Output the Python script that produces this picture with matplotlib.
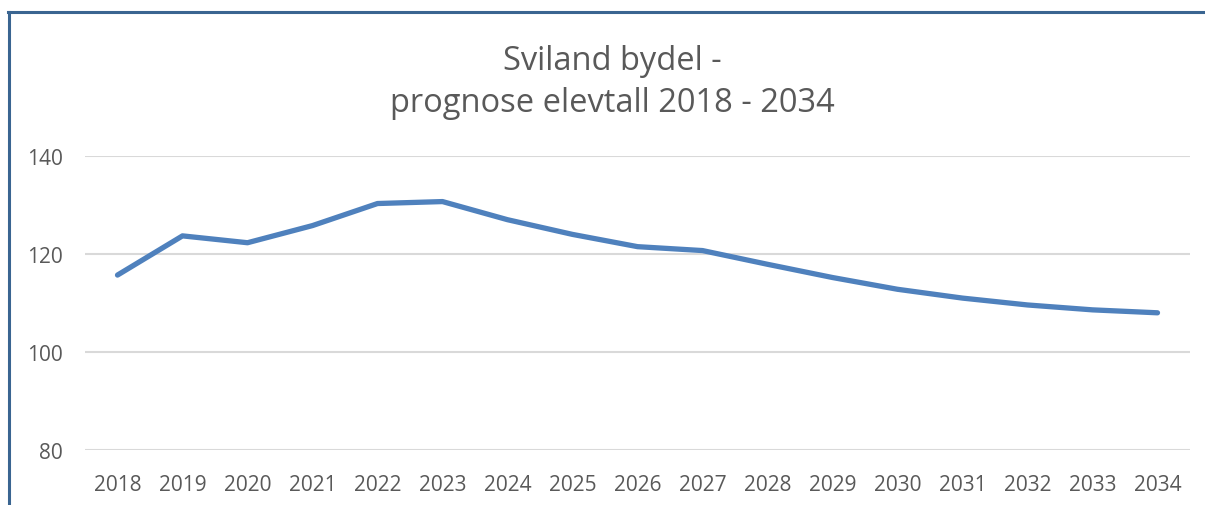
import matplotlib
matplotlib.use("Agg")
from matplotlib import pyplot as plt
from matplotlib.lines import Line2D

years = ["2018", "2019", "2020", "2021", "2022", "2023", "2024", "2025", "2026",
         "2027", "2028", "2029", "2030", "2031", "2032", "2033", "2034"]
elevtall = [115.7, 123.7, 122.3, 125.8, 130.3, 130.7, 127.0, 124.0, 121.5,
            120.7, 117.9, 115.2, 112.8, 111, 109.6, 108.6, 108.0]
y_ticks = [80, 100, 120, 140]

plt.rcParams['font.family'] = ['Open Sans', 'DejaVu Sans']

fig = plt.figure(figsize=(12.05, 5.06), dpi=100)
ax = fig.add_axes([85 / 1205, 55 / 506, 1105 / 1205, 294 / 506])

x = list(range(len(years)))
ax.plot(x, elevtall, color="#4F81BD", linewidth=3.8, solid_capstyle="round",
        solid_joinstyle="round", zorder=3)

ax.set_xlim(-0.5, len(years) - 0.5)
ax.set_ylim(80, 140)
ax.set_yticks(y_ticks)
ax.set_xticks(x)
ax.set_xticklabels(years)
ax.tick_params(axis="both", length=0, labelsize=15, colors="#595959")
ax.tick_params(axis="y", pad=16)
ax.tick_params(axis="x", pad=17)
ax.grid(axis="y", color="#D9D9D9", linewidth=1.5)
for s in ax.spines.values():
    s.set_visible(False)

fig.text(0.5085, 1 - 62 / 506, "Sviland bydel -", ha="center", va="center",
         fontsize=23.5, color="#595959")
fig.text(0.5085, 1 - 104 / 506, "prognose elevtall 2018 - 2034", ha="center",
         va="center", fontsize=23.5, color="#595959")

# chart frame (left and top edges visible)
fig.add_artist(Line2D([9 / 1205, 9 / 1205], [0, 1 - 13 / 506], color="#3A6591",
                      linewidth=2.2, transform=fig.transFigure))
fig.add_artist(Line2D([8 / 1205, 1], [1 - 13 / 506, 1 - 13 / 506], color="#3A6591",
                      linewidth=2.2, transform=fig.transFigure))

fig.savefig("out.png", dpi=100)
